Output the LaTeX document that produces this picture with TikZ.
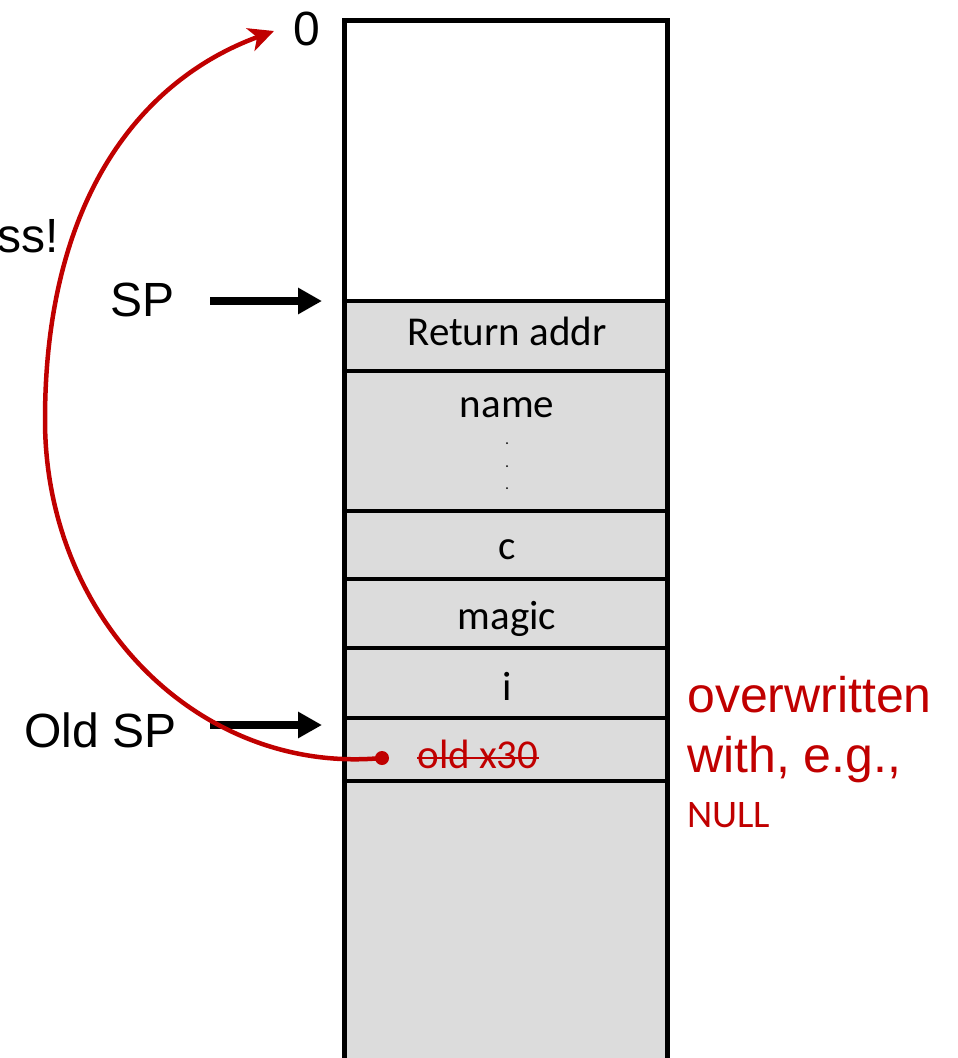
\documentclass[tikz,border=0pt]{standalone}
\usepackage{fontspec}
\setmainfont{Liberation Sans}
\newfontfamily\carl{Carlito}
\usetikzlibrary{arrows.meta}
\definecolor{cellgray}{HTML}{DCDCDC}
\definecolor{darkred}{HTML}{C00000}
\tikzset{
  celltext/.style={anchor=base, inner sep=0pt, font=\carl\fontsize{41}{41}\selectfont},
  biglabel/.style={inner sep=0pt, font=\fontsize{48}{48}\selectfont},
  redlabel/.style={inner sep=0pt, anchor=base west, text=darkred, font=\fontsize{50}{50}\selectfont},
  sparrow/.style={line width=8pt, -{Triangle[length=24pt,width=25pt]}},
  redline/.style={draw=darkred, line width=4.5pt},
  boxline/.style={line width=4.5pt},
  sepline/.style={line width=4pt},
}
\begin{document}
\begin{tikzpicture}[x=1pt,y=-1pt]
\useasboundingbox (0,0) rectangle (958,1058);
% cells
\fill[cellgray] (344.5,301) rectangle (667.5,1070);
\draw[boxline] (344.5,1070) -- (344.5,20.5) -- (667.5,20.5) -- (667.5,1070);
\foreach \y in {301,371,511,579,648,718,781}
  \draw[sepline] (344.5,\y) -- (667.5,\y);
% cell texts
\node[celltext] (ret) at (507,345) {Return addr};
\node[celltext] (name) at (507,417) {name};
\fill (507,443) circle (1pt) (507,466) circle (1pt) (507,488) circle (1pt);
\node[celltext] (c) at (507,559) {c};
\node[celltext] (magic) at (507,629) {magic};
\node[celltext] (i) at (507,700) {i};
\node[celltext, text=darkred] (oldx) at (478,768) {old x30};
\draw[darkred, line width=2pt] (oldx.west |- 0,758) -- (oldx.east |- 0,758);
% labels
\node[biglabel, anchor=base] (zero) at (307,45) {0};
\node[biglabel, anchor=base west] (sp) at (110,316) {SP};
\node[biglabel, anchor=base east] (ss) at (59,252) {ss!};
\node[biglabel, anchor=base west] (oldsp) at (24,747) {Old SP};
% SP arrows
\coordinate (spT) at (210,301);
\coordinate (spH) at (322,301);
\coordinate (osT) at (210,725);
\coordinate (osH) at (322,725);
\draw[sparrow] (spT) -- (spH);
\draw[sparrow] (osT) -- (osH);
% red note
\node[redlabel] (ow1) at (687,712) {overwritten};
\node[redlabel] (ow2) at (687,772) {with, e.g.,};
\node[inner sep=0pt, anchor=base west, text=darkred, font=\carl\fontsize{39}{39}\selectfont] (null) at (687,827) {NULL};
% red curve
\node[circle, fill=darkred, inner sep=0pt, minimum size=14pt] (dot) at (382,758) {};
\coordinate (tipz) at (274,31);
\draw[redline, -{Stealth[length=25pt,width=24pt,inset=7pt]}]
  (dot.center) .. controls (200,775) and (45,620) .. (45,420)
  .. controls (45,200) and (140,80) .. (tipz);
\end{tikzpicture}
\end{document}
